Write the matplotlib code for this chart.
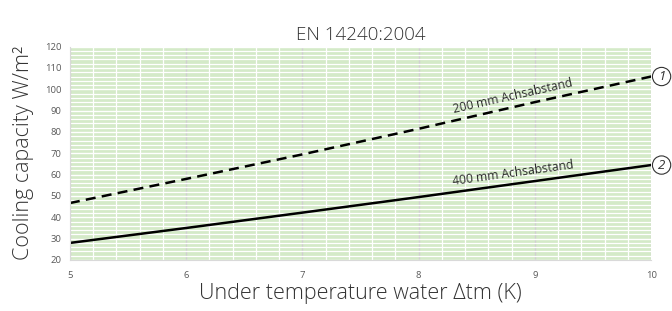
import matplotlib
matplotlib.use("Agg")
import matplotlib.pyplot as plt
from matplotlib.ticker import MultipleLocator
import numpy as np

x_vals = [5, 6, 7, 8, 9, 10]
series_200 = [46.7, 58.0, 69.5, 81.5, 94.0, 106.0]
series_400 = [28.0, 35.0, 42.2, 49.5, 57.0, 64.5]
label_200 = "200 mm Achsabstand"
label_400 = "400 mm Achsabstand"
title = "EN 14240:2004"
xlabel = "Under temperature water Δtm (K)"
ylabel = "Cooling capacity W/m²"

plt.rcParams['font.family'] = ['Open Sans', 'DejaVu Sans']

fig = plt.figure(figsize=(6.72, 3.11), dpi=100)
ax = fig.add_axes([0.104, 0.164, 0.865, 0.686])
ax.set_facecolor('#d4eac8')

ax.set_xlim(5, 10)
ax.set_ylim(20, 120)
ax.xaxis.set_major_locator(MultipleLocator(1))
ax.xaxis.set_minor_locator(MultipleLocator(0.2))
ax.yaxis.set_major_locator(MultipleLocator(10))
ax.yaxis.set_minor_locator(MultipleLocator(2))
ax.grid(which='minor', color='white', linewidth=0.9)
ax.grid(which='major', axis='y', color='white', linewidth=1.0)
ax.set_axisbelow(True)
# major vertical grid lines drawn over the white minor ones
for gl in ax.xaxis.get_gridlines():
    pass
ax.grid(which='major', axis='x', color='#d0d0d0', linewidth=1.0)
for line in ax.xaxis.get_gridlines():
    line.set_zorder(0.8)

for s in ['top', 'right']:
    ax.spines[s].set_visible(False)
ax.spines['left'].set_color('#d9d9d9')
ax.spines['bottom'].set_color('#d9d9d9')
ax.tick_params(which='both', length=0, labelsize=6.8, colors='#595959', pad=6)
ax.tick_params(axis='x', pad=8)

ax.plot(x_vals, series_200, color='black', linewidth=1.8, linestyle=(0, (4, 2.5)))
ax.plot(x_vals, series_400, color='black', linewidth=1.8)

def slope_angle(xs, ys, i0, i1):
    p0 = ax.transData.transform((xs[i0], ys[i0]))
    p1 = ax.transData.transform((xs[i1], ys[i1]))
    return np.degrees(np.arctan2(p1[1] - p0[1], p1[0] - p0[0]))

fig.canvas.draw()
a200 = slope_angle(x_vals, series_200, 3, 5)
a400 = slope_angle(x_vals, series_400, 3, 5)
ax.text(8.82, np.interp(8.82, x_vals, series_200) + 2.2, label_200, rotation=a200,
        rotation_mode='anchor', ha='center', va='bottom', fontsize=8.7, color='#2a2a2a')
ax.text(8.82, np.interp(8.82, x_vals, series_400) + 1.8, label_400, rotation=a400,
        rotation_mode='anchor', ha='center', va='bottom', fontsize=8.7, color='#2a2a2a')

for num, ys in (("1", series_200), ("2", series_400)):
    ax.annotate(num, xy=(x_vals[-1], ys[-1]), xytext=(7.5, 0), textcoords='offset points',
                ha='center', va='center', fontsize=9.5, style='italic', color='#333333',
                annotation_clip=False,
                bbox=dict(boxstyle='circle,pad=0.2', fc='white', ec='#333333', lw=0.8))

ax.set_title(title, fontsize=13.5, color='#333333', pad=5, fontweight='light')
ax.set_xlabel(xlabel, fontsize=15.5, color='#333333', labelpad=2, fontweight='light')
ax.set_ylabel(ylabel, fontsize=15.5, color='#333333', labelpad=8, fontweight='light')

fig.savefig('out.png', dpi=100)
